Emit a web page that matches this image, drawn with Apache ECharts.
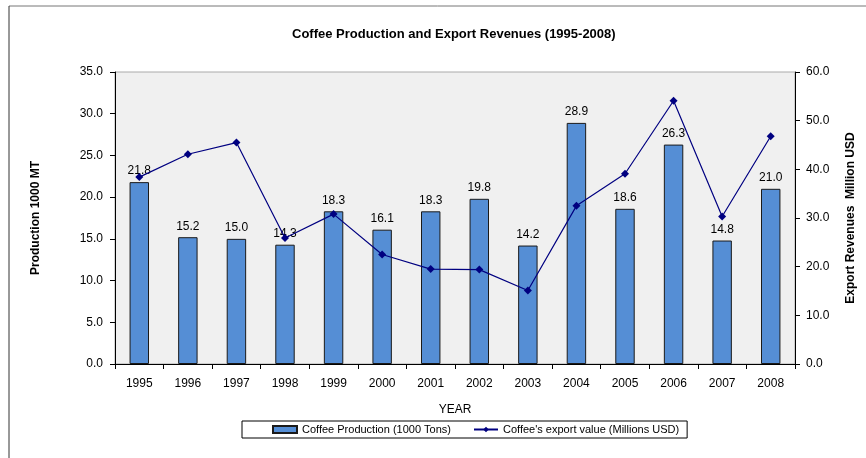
<!DOCTYPE html>
<html>
<head>
<meta charset="utf-8">
<script src="https://cdn.jsdelivr.net/npm/echarts@6/dist/echarts.min.js"></script>
<style>
  html, body { margin: 0; padding: 0; background: #fff; }
  #chart { width: 866px; height: 458px; }
</style>
</head>
<body>
<div id="chart"></div>
<script>
// Years on the category axis
const years = ['1995','1996','1997','1998','1999','2000','2001','2002','2003','2004','2005','2006','2007','2008'];
// Coffee production, thousand tons (left axis)
const production = [21.8, 15.2, 15.0, 14.3, 18.3, 16.1, 18.3, 19.8, 14.2, 28.9, 18.6, 26.3, 14.8, 21.0];
// Export value, million USD (right axis)
const exportValue = [38.4, 43.1, 45.5, 25.9, 30.8, 22.5, 19.5, 19.4, 15.1, 32.5, 39.1, 54.1, 30.3, 46.8];

const FONT = '"Liberation Sans", Arial, sans-serif';
const chart = echarts.init(document.getElementById('chart'), null, { renderer: 'canvas' });

chart.setOption({
  animation: false,
  backgroundColor: '#ffffff',
  textStyle: { fontFamily: FONT },
  title: {
    text: 'Coffee Production and Export Revenues (1995-2008)',
    left: 287,
    top: 23,
    textStyle: { fontFamily: FONT, fontSize: 13, fontWeight: 'bold', color: '#000' }
  },
  graphic: [
    { type: 'line', shape: { x1: 9, y1: 6, x2: 866, y2: 6 }, style: { stroke: '#777', lineWidth: 1 } },
    { type: 'line', shape: { x1: 9, y1: 6, x2: 9, y2: 458 }, style: { stroke: '#333', lineWidth: 1 } }
  ],
  grid: {
    left: 115, right: 71, top: 72, bottom: 94,
    show: true, backgroundColor: '#f0f0f0', borderColor: '#aaaaaa', borderWidth: 1
  },
  legend: {
    left: 242, top: 421,
    padding: [3, 8, 3, 30],
    itemGap: 22,
    itemWidth: 24, itemHeight: 7,
    borderColor: '#000', borderWidth: 1, backgroundColor: '#fff',
    textStyle: { fontFamily: FONT, fontSize: 11, color: '#000' },
    data: [
      { name: 'Coffee Production (1000 Tons)', icon: 'rect' },
      { name: "Coffee's export value (Millions USD)" }
    ]
  },
  xAxis: {
    type: 'category',
    data: years,
    boundaryGap: true,
    name: 'YEAR',
    nameLocation: 'middle',
    nameGap: 40,
    nameTextStyle: { fontFamily: FONT, fontSize: 12, color: '#000' },
    axisLine: { lineStyle: { color: '#000', width: 1 } },
    axisTick: { show: true, length: 5, alignWithLabel: false, lineStyle: { color: '#000' } },
    axisLabel: { margin: 14, fontFamily: FONT, fontSize: 12, color: '#000' },
    splitLine: { show: false }
  },
  yAxis: [
    {
      type: 'value', min: 0, max: 35, interval: 5,
      name: 'Production 1000 MT',
      nameLocation: 'middle', nameGap: 73, nameRotate: 90,
      nameTextStyle: { fontFamily: FONT, fontSize: 12, fontWeight: 'bold', color: '#000' },
      axisLine: { show: true, lineStyle: { color: '#000', width: 1 } },
      axisTick: { show: true, length: 5, lineStyle: { color: '#000' } },
      axisLabel: { margin: 12, fontFamily: FONT, fontSize: 12, color: '#000', formatter: v => v.toFixed(1) },
      splitLine: { show: false }
    },
    {
      type: 'value', min: 0, max: 60, interval: 10,
      name: 'Export Revenues  Million USD',
      nameLocation: 'middle', nameGap: 50, nameRotate: 90,
      nameTextStyle: { fontFamily: FONT, fontSize: 12, fontWeight: 'bold', color: '#000' },
      position: 'right',
      axisLine: { show: true, lineStyle: { color: '#000', width: 1 } },
      axisTick: { show: true, length: 5, lineStyle: { color: '#000' } },
      axisLabel: { margin: 11, fontFamily: FONT, fontSize: 12, color: '#000', formatter: v => v.toFixed(1) },
      splitLine: { show: false }
    }
  ],
  series: [
    {
      name: 'Coffee Production (1000 Tons)',
      type: 'bar',
      yAxisIndex: 0,
      data: production,
      barWidth: '40%',
      itemStyle: { color: '#558ed5', borderColor: '#1a1a1a', borderWidth: 1 },
      label: {
        show: true, position: 'top', distance: 5,
        fontFamily: FONT, fontSize: 12, color: '#000',
        formatter: p => p.value.toFixed(1)
      },
      z: 2
    },
    {
      name: "Coffee's export value (Millions USD)",
      type: 'line',
      yAxisIndex: 1,
      data: exportValue,
      symbol: 'diamond',
      symbolSize: 8,
      lineStyle: { color: '#000080', width: 1.2 },
      itemStyle: { color: '#000080' },
      z: 3
    }
  ]
});
</script>
</body>
</html>
